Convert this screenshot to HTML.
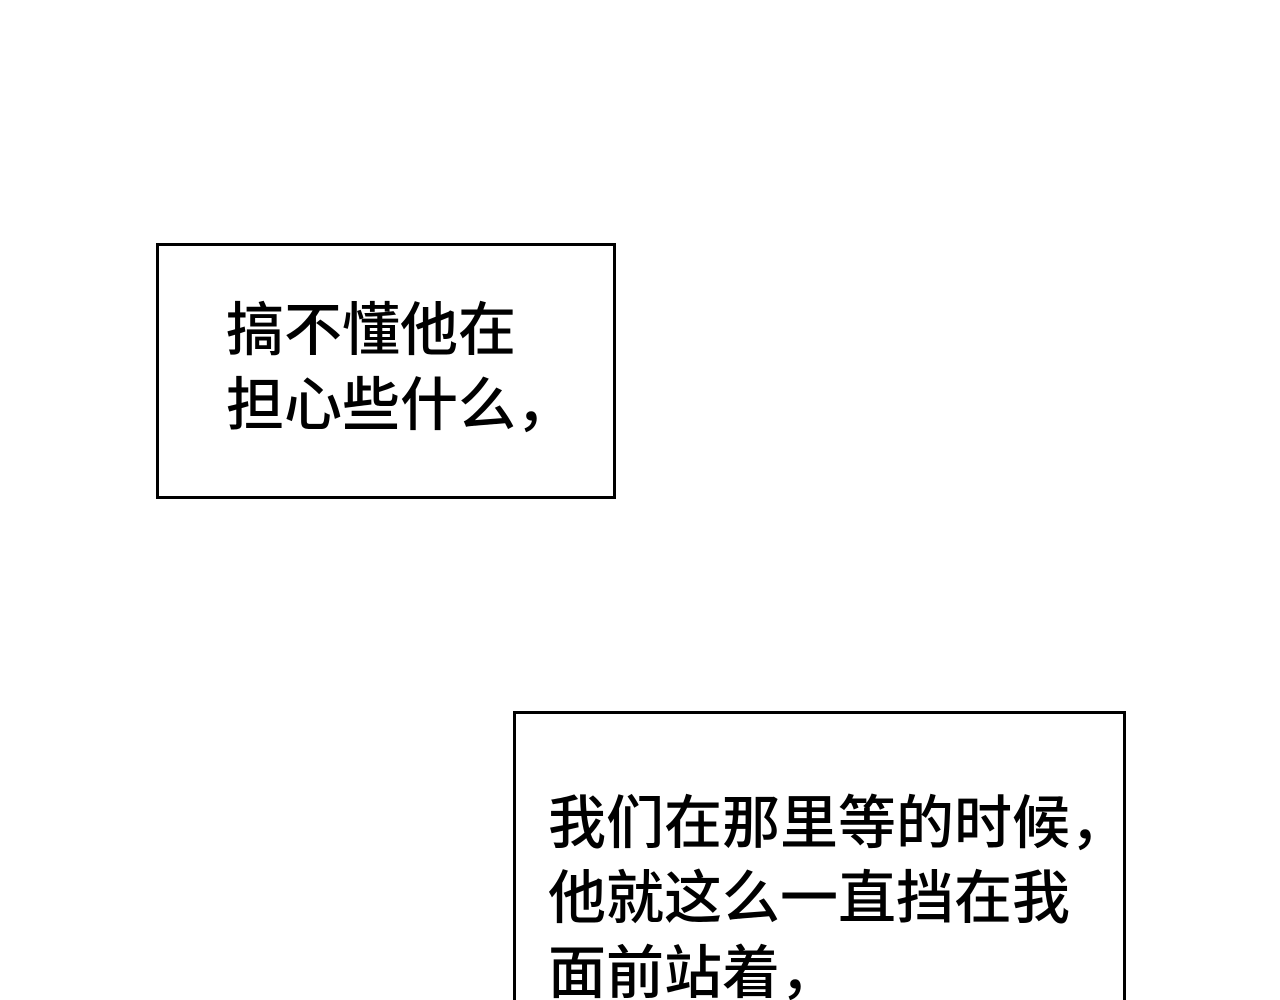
<!DOCTYPE html>
<html><head><meta charset="utf-8"><style>
html,body{margin:0;padding:0;background:#fff;width:1280px;height:1000px;overflow:hidden;position:relative}
.box{position:absolute;border:3px solid #000;background:#fff;box-sizing:border-box}
.t{position:absolute;font-family:"Liberation Sans","Noto Sans CJK SC",sans-serif;font-size:58px;font-weight:500;line-height:75px;color:#000;white-space:nowrap;letter-spacing:0px}
</style></head><body>
<div class="box" style="left:156px;top:243px;width:460px;height:256px"></div>
<div class="t" style="left:226px;top:293px">搞不懂他在<br>担心些什么，</div>
<div class="box" style="left:513px;top:711px;width:613px;height:320px"></div>
<div class="t" style="left:548px;top:786px">我们在那里等的时候，<br>他就这么一直挡在我<br>面前站着，</div>
</body></html>
